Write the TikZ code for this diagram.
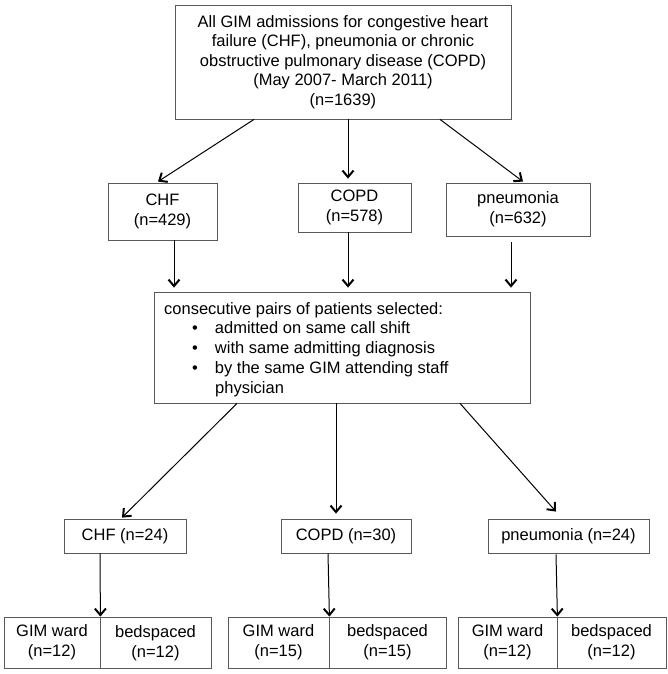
\documentclass[tikz,border=0pt]{standalone}
\usepackage{fontspec}
\setmainfont{Liberation Sans}
\usetikzlibrary{arrows.meta,calc}
\begin{document}
\begin{tikzpicture}[x=1pt,y=-1pt,
  box/.style={draw=black!65, line width=0.8pt, inner sep=0pt, align=center,
    font=\fontsize{16.5}{19.6}\selectfont},
  arr/.style={line width=1pt, -{Straight Barb[length=6.5pt,width=11pt,line width=2pt]}}]
\useasboundingbox[fill=white] (0,0) rectangle (668,674);
% top
\node[box, minimum width=336pt, minimum height=114pt] (top) at (343,62)
  {All GIM admissions for congestive heart\\failure (CHF), pneumonia or chronic\\obstructive pulmonary disease (COPD)\\(May 2007- March 2011)\\(n=1639)};
% row 2
\node[box, minimum width=109pt, minimum height=57pt] (chf) at (162.5,211.5) {CHF\\(n=429)};
\node[box, minimum width=113pt, minimum height=49pt] (copd) at (354.5,207.5) {COPD\\(n=578)};
\node[box, minimum width=144pt, minimum height=53pt] (pneu) at (518,209.5) {pneumonia\\(n=632)};
% middle
\node[box, minimum width=376pt, minimum height=111pt] (mid) at (342,347.5) {};
\node[anchor=west, inner sep=0pt, align=left, font=\fontsize{16.5}{19.8}\selectfont] (midtext) at (164,349.5)
  {consecutive pairs of patients selected:\\
   \hspace*{28pt}\textbullet\hspace*{17pt}admitted on same call shift\\
   \hspace*{28pt}\textbullet\hspace*{17pt}with same admitting diagnosis\\
   \hspace*{28pt}\textbullet\hspace*{17pt}by the same GIM attending staff\\
   \hspace*{51pt}physician};
% row 3
\node[box, minimum width=122pt, minimum height=34pt] (chf3) at (125,536) {CHF (n=24)};
\node[box, minimum width=130pt, minimum height=34pt] (copd3) at (346,536) {COPD (n=30)};
\node[box, minimum width=161pt, minimum height=34pt] (pneu3) at (568.5,536) {pneumonia (n=24)};
% row 4
\node[box, minimum width=96pt, minimum height=51pt] (gl) at (52,642.5) {GIM ward\\(n=12)};
\node[box, minimum width=111pt, minimum height=51pt] (bl) at (155.5,643) {bedspaced\\(n=12)};
\node[box, minimum width=101pt, minimum height=51pt] (gm) at (278.5,642.5) {GIM ward\\(n=15)};
\node[box, minimum width=117pt, minimum height=51pt] (bm) at (387.5,642.5) {bedspaced\\(n=15)};
\node[box, minimum width=99pt, minimum height=51pt] (gr) at (507.5,642.5) {GIM ward\\(n=12)};
\node[box, minimum width=109pt, minimum height=51pt] (br) at (611.5,642.5) {bedspaced\\(n=12)};
% arrows
\draw[arr] ($(top.south)+(-89,0)$) -- ($(chf.north)+(-4.5,-1)$);
\draw[arr] ($(top.south)+(5,0)$) -- ($(copd.north)+(-6.5,-4)$);
\draw[arr] ($(top.south)+(97,0)$) -- ($(pneu.north)+(5,-1)$);
\draw[arr] ($(chf.south)+(11.5,0)$) -- ($(mid.north)+(-168,-4)$);
\draw[arr] ($(copd.south)+(-6.5,0)$) -- ($(mid.north)+(6,-4)$);
\draw[arr] ($(pneu.south)+(-7,6)$) -- ($(mid.north)+(169,-4)$);
\draw[arr] ($(mid.south)+(-105,0)$) -- ($(chf3.north)+(-3,-1)$);
\draw[arr] ($(mid.south)+(-6,0)$) -- ($(copd3.north)+(-10,-5)$);
\draw[arr] ($(mid.south)+(118,0)$) -- ($(pneu3.north)+(-12.5,-7)$);
\draw[arr] ($(chf3.south)+(-25,0)$) -- (gl.north east);
\draw[arr] ($(copd3.south)+(-18,0)$) -- (gm.north east);
\draw[arr] ($(pneu3.south)+(-12.5,1)$) -- (gr.north east);
\end{tikzpicture}
\end{document}
